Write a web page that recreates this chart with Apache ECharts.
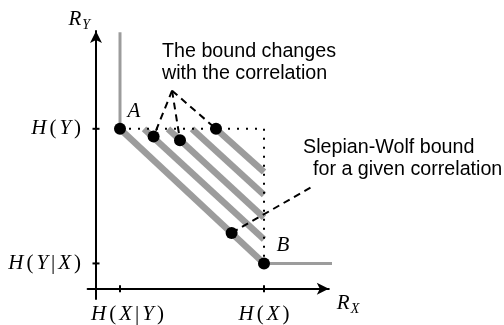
<!DOCTYPE html>
<html>
<head>
<meta charset="utf-8">
<script src="https://cdn.jsdelivr.net/npm/echarts@6/dist/echarts.min.js"></script>
<style>
  html, body { margin: 0; padding: 0; background: #fff; }
  #main { width: 504px; height: 325px; }
</style>
</head>
<body>
<div id="main"></div>
<script>
// rate axes: R_X, R_Y (arbitrary entropy units)
const xTickValues = [1, 7];
const xTickLabels = ["H(X|Y)", "H(X)"];
const yTickValues = [1, 6.3];
const yTickLabels = ["H(Y|X)", "H(Y)"];

// Slepian-Wolf bounds for several correlations (start on H(Y), end on H(X))
const boundLines = [
  [[1, 6.3], [7, 1]],
  [[2, 6.3], [7, 1.95]],
  [[3, 6.3], [7, 2.8]],
  [[4, 6.3], [7, 3.7]],
  [[5, 6.3], [7, 4.6]],
];
// vertical / horizontal edges of the region
const edgeUp = [[1, 10.1], [1, 6.3]];
const edgeRight = [[7, 1], [10, 1]];
// dotted corner H(Y) -> H(X)
const dottedCorner = [[1, 6.3], [7, 6.3], [7, 1]];

// operating points, A first and B last
const dotX = [1, 2.4, 3.5, 5, 5.65, 7];
const dotY = [6.3, 6.0, 5.85, 6.3, 2.2, 1];
const dotNames = ["A", "", "", "", "", "B"];

// dashed leaders from the annotations
const apex = [3.17, 7.8];
const apexTargets = [1, 2, 3]; // indexes into dots
const swLeader = [[5.65, 2.2], [9.05, 4.05]];

const GRAY = "#9c9c9c";

function math(s) {
  return s
    .split("")
    .map((c) => (/[A-Z]/.test(c) ? "{i|" + c + "}" : "{n|" + c + "}"))
    .join("");
}

const mathRich = {
  i: { fontFamily: "Liberation Serif", fontStyle: "italic", fontSize: 21, padding: [0, 1.5], color: "#000" },
  n: { fontFamily: "Liberation Serif", fontSize: 21, padding: [0, 1.5], color: "#000" },
  sp: { width: 15 },
  R: { fontFamily: "Liberation Serif", fontStyle: "italic", fontSize: 21, lineHeight: 20, verticalAlign: "top", color: "#000" },
  s: { fontFamily: "Liberation Serif", fontStyle: "italic", fontSize: 14, lineHeight: 14, padding: [9, 0, 0, 1], verticalAlign: "top", color: "#000" },
};

const series = [];
boundLines.forEach((l) => {
  series.push({
    type: "line", data: l, symbol: "none", clip: false, silent: true,
    lineStyle: { color: GRAY, width: 6.5, cap: "butt" },
  });
});
[edgeUp, edgeRight].forEach((l) => {
  series.push({
    type: "line", data: l, symbol: "none", clip: false, silent: true,
    lineStyle: { color: GRAY, width: 3, cap: "butt" },
  });
});
series.push({
  type: "line", data: dottedCorner, symbol: "none", clip: false, silent: true,
  lineStyle: { color: "#000", width: 2, type: [2, 7] },
});
apexTargets.forEach((k) => {
  series.push({
    type: "line", data: [apex, [dotX[k], dotY[k]]], symbol: "none", clip: false, silent: true,
    lineStyle: { color: "#000", width: 2, type: [7, 5] },
  });
});
series.push({
  type: "line", data: swLeader, symbol: "none", clip: false, silent: true,
  lineStyle: { color: "#000", width: 2, type: [7, 5] },
});
// small crossing ticks on the axes
series.push({
  type: "scatter", symbol: "rect", symbolSize: [7, 2], silent: true,
  itemStyle: { color: "#000", opacity: 1 },
  data: yTickValues.map((v) => [0, v]),
});
series.push({
  type: "scatter", symbol: "rect", symbolSize: [2, 7], silent: true,
  itemStyle: { color: "#000", opacity: 1 },
  data: xTickValues.map((v) => [v, 0]),
});
series.push({
  type: "scatter", symbolSize: 12, clip: false, silent: true,
  itemStyle: { color: "#000", opacity: 1 },
  data: dotX.map((x, i) => ({
    value: [x, dotY[i]],
    label: {
      show: dotNames[i] !== "",
      formatter: dotNames[i],
      position: "inside",
      offset: i === 0 ? [14, -17] : [19, -18],
      fontFamily: "Liberation Serif", fontStyle: "italic", fontSize: 21, color: "#000",
    },
  })),
  z: 5,
});

const option = {
  animation: false,
  backgroundColor: "#fff",
  grid: { left: 87.6, right: 175.2, top: 31, bottom: 19.6 },
  xAxis: {
    type: "value", min: -0.35, max: 9.7,
    splitLine: { show: false },
    axisLine: { onZero: true, lineStyle: { color: "#000", width: 2 }, symbol: ["none", "arrow"], symbolSize: [9, 12] },
    axisTick: { show: false },
    axisLabel: {
      customValues: xTickValues, margin: 5, rich: mathRich,
      formatter: (v) => {
        const k = xTickValues.indexOf(v);
        return (k === 0 ? "{sp| }" : "") + math(xTickLabels[k]);
      },
    },
    name: "{R|R}{s|X}", nameLocation: "end", nameGap: 8,
    nameTextStyle: { rich: mathRich, align: "left", verticalAlign: "top", padding: [4, 0, 0, 0] },
  },
  yAxis: {
    type: "value", min: -0.4, max: 10.15,
    splitLine: { show: false },
    axisLine: { onZero: true, lineStyle: { color: "#000", width: 2 }, symbol: ["none", "arrow"], symbolSize: [9, 12] },
    axisTick: { show: false },
    axisLabel: {
      customValues: yTickValues, margin: 5, rich: mathRich,
      formatter: (v) => math(yTickLabels[yTickValues.indexOf(v)]),
    },
    name: "{R|R}{s|Y}", nameLocation: "end", nameGap: 2,
    nameTextStyle: { rich: mathRich, align: "right", verticalAlign: "bottom", padding: [0, 6, 0, 0] },
  },
  graphic: [
    {
      type: "text", left: 162, top: 41,
      style: { text: "The bound changes\nwith the correlation", fontFamily: "Liberation Sans", fontSize: 19.7, lineHeight: 22, fill: "#000" },
    },
    {
      type: "text", left: 303, top: 137,
      style: { text: "Slepian-Wolf bound", fontFamily: "Liberation Sans", fontSize: 19.7, lineHeight: 22, fill: "#000" },
    },
    {
      type: "text", left: 313, top: 159,
      style: { text: "for a given correlation", fontFamily: "Liberation Sans", fontSize: 19.7, lineHeight: 22, fill: "#000" },
    },
  ],
  series: series,
};

echarts.init(document.getElementById("main")).setOption(option);
</script>
</body>
</html>
